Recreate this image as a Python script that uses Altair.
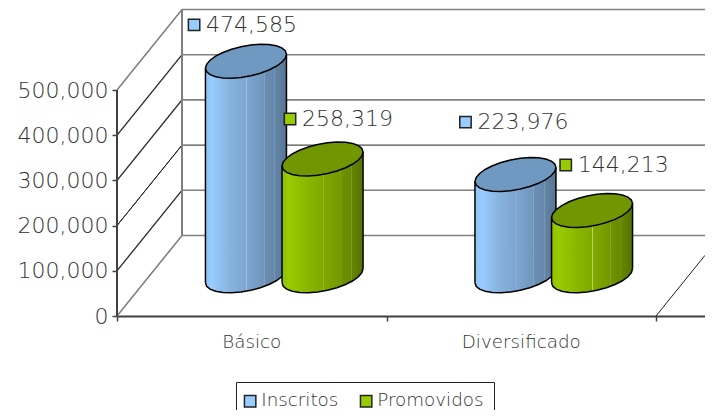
import math
import altair as alt
import pandas as pd

categories = ["Básico", "Diversificado"]
series = ["Inscritos", "Promovidos"]
inscritos = [474585, 223976]
promovidos = [258319, 144213]
y_ticks = [0, 100000, 200000, 300000, 400000, 500000]
x_ticks = [0, 1, 2]
gray_levels = [0, 100000, 300000, 400000, 500000]
black_levels = [200000]
# where each value label sits, in axis units
key_x = {"Inscritos": [0.286, 1.293], "Promovidos": [0.642, 1.665]}
key_y = {"Inscritos": [644000, 429000], "Promovidos": [436000, 334000]}

FONT = "DejaVu Sans"
WEIGHT = 200
TXT = "#333333"
PX_X = 269.5       # px per category
PX_Y = 45.2 / 1e5  # px per unit
W, H = 588, 308
XMAX, YMAX = W / PX_X, H / PX_Y
DEPTH_X, DEPTH_Y = 65 / PX_X, 80.5 / PX_Y
BAR_HALF = 40.5 / PX_X
GROUP_OFF = 38.3 / PX_X
x_scale = alt.Scale(domain=[0, XMAX], nice=False, zero=False)
y_scale = alt.Scale(domain=[0, YMAX], nice=False, zero=False)
x_axis = alt.Axis(values=x_ticks, labels=False, grid=False, domainColor="#404040", domainWidth=2,
                  tickColor="#404040", tickWidth=1.5, tickSize=5, title=None)
y_axis = alt.Axis(values=y_ticks, format=",d", grid=False, domain=False, tickColor="#404040", tickWidth=1.5, tickSize=5,
                  labelFont=FONT, labelFontSize=22, labelFontWeight=WEIGHT, labelColor=TXT, labelPadding=4, title=None)
X = lambda f="x", **k: alt.X(f, type="quantitative", scale=x_scale, axis=x_axis, **k)
Y = lambda f="y", **k: alt.Y(f, type="quantitative", scale=y_scale, axis=y_axis, **k)

TILT = 7


def ell(t):
    return 40.5 * math.cos(t), 15.5 * math.sin(t) - TILT * math.cos(t)


def p(x, y):
    return f"{x/50:.4f},{y/50:.4f}"


N = 26
top_path = "M" + " L".join(p(*ell(2 * math.pi * i / N)) for i in range(N)) + " Z"
# lower wall of a cylinder: filled shape without outline, then the bottom arc alone
low = [ell(math.pi - math.pi * i / (N // 2)) for i in range(N // 2 + 1)]
arc_path = "M" + " L".join(p(*q) for q in low)
bot_path = "M" + p(-40.5, -14) + " L" + " L".join(p(*q) for q in low) + " L" + p(40.5, -14) + " Z"
# upper wall: fills the slanted strip under the top ellipse
cap_path = "M" + p(-40.5, TILT) + " L" + p(40.5, -TILT) + " L" + p(40.5, 14) + " L" + p(-40.5, 14) + " Z"
WALL_OVERLAP = 10 / PX_Y
TILT_U = TILT / PX_Y


def grad(stops):
    return alt.Gradient(
        gradient="linear", x1=0, x2=1, y1=0, y2=0,
        stops=[alt.GradientStop(offset=o, color=c) for o, c in stops],
    )


blue = grad([(0, "#8fc1f2"), (0.08, "#99ccff"), (0.3, "#87b3e0"), (0.5, "#7da5cf"), (0.505, "#a9c6e2"), (0.515, "#7da5cf"),
             (0.72, "#7096bd"), (0.725, "#92afcb"), (0.735, "#6a8db2"), (0.85, "#6688ac"), (0.855, "#86a0bb"), (0.865, "#6384a6"), (1, "#587694")])
green = grad([(0, "#8fbf00"), (0.08, "#99cc00"), (0.3, "#8ab800"), (0.5, "#7fa900"), (0.505, "#b9d860"), (0.515, "#7fa900"),
              (0.72, "#729800"), (0.725, "#8fae30"), (0.735, "#6e9200"), (0.85, "#688a00"), (0.855, "#82a030"), (0.865, "#648500"), (1, "#567200")])
tops = {"Inscritos": "#7099c2", "Promovidos": "#709600"}
grads = {"Inscritos": blue, "Promovidos": green}
solid = {"Inscritos": "#99ccff", "Promovidos": "#99cc00"}
vals = {"Inscritos": inscritos, "Promovidos": promovidos}

layers = []


def grid_lines(levels, color, sw):
    rows = []
    for v in levels:
        rows += [{"l": v, "o": 0, "x": 0, "y": v},
                 {"l": v, "o": 1, "x": DEPTH_X, "y": v + DEPTH_Y},
                 {"l": v, "o": 2, "x": XMAX, "y": v + DEPTH_Y}]
    return alt.Chart(pd.DataFrame(rows)).mark_line(color=color, strokeWidth=sw).encode(
        x=X(), y=Y(), detail="l:N", order="o:Q")


layers.append(grid_lines(gray_levels, "#808080", 1.6))
layers.append(grid_lines(black_levels, "#222222", 1))
# thin black side-wall diagonals
diag = []
for v in [100000, 200000, 300000, 400000]:
    diag += [{"l": v, "x": 0, "y": v}, {"l": v, "x": DEPTH_X, "y": v + DEPTH_Y}]
layers.append(alt.Chart(pd.DataFrame(diag)).mark_line(color="#222222", strokeWidth=1).encode(x=X(), y=Y(), detail="l:N"))
# back-wall vertical and y axis line
layers.append(alt.Chart(pd.DataFrame([{"x": DEPTH_X, "y": DEPTH_Y, "y2": 500000 + DEPTH_Y}])).mark_rule(color="#808080", strokeWidth=2).encode(x=X(), y=Y(), y2="y2"))
layers.append(alt.Chart(pd.DataFrame([{"x": 0, "y": 0, "y2": 500000}])).mark_rule(color="#404040", strokeWidth=2).encode(x=X(), y=Y(), y2="y2"))
# floor right edge
layers.append(alt.Chart(pd.DataFrame([{"x": 2, "y": 0}, {"x": XMAX, "y": (XMAX - 2) / DEPTH_X * DEPTH_Y}])).mark_line(color="#222222", strokeWidth=1).encode(x=X(), y=Y()))

# cylinders
for s, sign in zip(series, (-1, 1)):
    rows = []
    for i, c in enumerate(categories):
        cx = i + 0.5 + DEPTH_X / 2 + sign * GROUP_OFF
        base = DEPTH_Y / 2
        top = base + vals[s][i]
        rows.append({"cat": c, "cx": cx, "x0": cx - BAR_HALF, "x1": cx + BAR_HALF, "base": base,
                     "wall": base + WALL_OVERLAP, "left_end": base - TILT_U, "right_end": base + TILT_U,
                     "top": top, "wall_top": top - WALL_OVERLAP, "left_top": top - TILT_U, "right_top": top + TILT_U})
    d = pd.DataFrame(rows)
    ch = alt.Chart(d)
    layers.append(ch.mark_point(shape=bot_path, size=10000, filled=True, fill=grads[s], strokeWidth=0, opacity=1)
                  .encode(x=X("cx"), y=Y("base")))
    layers.append(ch.mark_point(shape=cap_path, size=10000, filled=True, fill=grads[s], strokeWidth=0, opacity=1)
                  .encode(x=X("cx"), y=Y("top")))
    layers.append(ch.mark_rect(fill=grads[s], strokeWidth=0).encode(x=X("x0"), x2="x1", y=Y("wall"), y2="wall_top"))
    layers.append(ch.mark_point(shape=arc_path, size=10000, filled=False, stroke="black", strokeWidth=1.5, opacity=1)
                  .encode(x=X("cx"), y=Y("base")))
    layers.append(ch.mark_rule(color="black", strokeWidth=1.5).encode(x=X("x0"), y=Y("left_end"), y2="left_top"))
    layers.append(ch.mark_rule(color="black", strokeWidth=1.5).encode(x=X("x1"), y=Y("right_end"), y2="right_top"))
    layers.append(ch.mark_point(shape=top_path, size=10000, filled=True, fill=tops[s], stroke="black", strokeWidth=1.5, opacity=1)
                  .encode(x=X("cx"), y=Y("top")))

# value labels with keys
rows = []
for s in series:
    for i, c in enumerate(categories):
        rows.append({"series": s, "value": vals[s][i], "x": key_x[s][i], "y": key_y[s][i]})
lab = pd.DataFrame(rows)
layers.append(alt.Chart(lab).mark_text(font=FONT, fontWeight=WEIGHT, fontSize=22, color=TXT, align="left", baseline="middle", dx=12).encode(
    x=X(), y=Y(), text=alt.Text("value:Q", format=",d")))
layers.append(alt.Chart(lab).mark_square(size=130, opacity=1, stroke="#222222", strokeWidth=1.5).encode(
    x=X(), y=Y(),
    fill=alt.Fill("series:N", scale=alt.Scale(domain=series, range=[solid[s] for s in series]), title=None,
                  legend=alt.Legend(orient="none", legendX=119, legendY=374, direction="horizontal", symbolType="square",
                                    symbolSize=130, symbolStrokeColor="#222222", symbolStrokeWidth=1.5, symbolOpacity=1,
                                    symbolOffset=-5,
                                    labelFont=FONT, labelFontWeight=WEIGHT, labelFontSize=18.3, labelColor=TXT, strokeColor="#222222",
                                    padding=10, columnPadding=18, labelOffset=2, rowPadding=0)),
))

# category labels
layers.append(alt.Chart(pd.DataFrame({"cat": categories, "x": [0.5, 1.5], "y": [0, 0]})).mark_text(
    font=FONT, fontWeight=WEIGHT, fontSize=18.3, color=TXT, baseline="middle", dy=27).encode(x=X(), y=Y(), text="cat:N"))

chart = alt.layer(*layers).properties(
    width=W, height=H,
    padding={"left": 109, "top": 0, "right": 0, "bottom": 94},
    autosize=alt.AutoSizeParams(type="none"),
).configure_view(stroke=None)
chart.save("out.html", embed_options={"renderer": "svg", "actions": False})
